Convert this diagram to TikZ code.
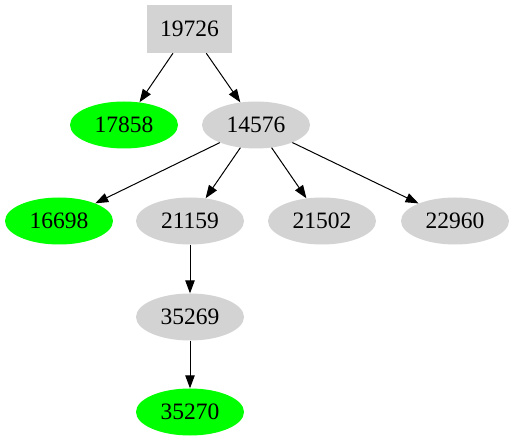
\documentclass[tikz,border=0pt]{standalone}
\usepackage{fontspec}
\setmainfont{Liberation Serif}
\usetikzlibrary{shapes.geometric,arrows.meta}
\definecolor{ggray}{HTML}{D3D3D3}
\definecolor{ggreen}{HTML}{00FF00}
\tikzset{
  base/.style={font=\fontsize{23.5}{26}\selectfont, inner sep=0pt},
  gbox/.style={base, rectangle, fill=ggray, minimum width=85pt, minimum height=48pt},
  gell/.style={base, ellipse, fill=ggray, minimum width=108pt, minimum height=47pt},
  grn/.style={base, ellipse, fill=ggreen, minimum width=108pt, minimum height=47pt},
  edge/.style={draw=black, line width=1pt, -{Triangle[length=13pt,width=9.5pt]}}
}
\begin{document}
\begin{tikzpicture}[x=1pt,y=-1pt]
\useasboundingbox (0,0) rectangle (514,443);
\node[gbox] (n19726) at (189.5,29) {19726};
\node[grn]  (n17858) at (124,125) {17858};
\node[gell] (n14576) at (256,125) {14576};
\node[grn]  (n16698) at (59,221) {16698};
\node[gell] (n21159) at (190,221) {21159};
\node[gell] (n21502) at (322,221) {21502};
\node[gell] (n22960) at (455,221) {22960};
\node[gell] (n35269) at (190,317) {35269};
\node[grn]  (n35270) at (190,412) {35270};
\draw[edge] (n19726) -- (n17858);
\draw[edge] (n19726) -- (n14576);
\draw[edge] (n14576) -- (n16698);
\draw[edge] (n14576) -- (n21159);
\draw[edge] (n14576) -- (n21502);
\draw[edge] (n14576) -- (n22960);
\draw[edge] (n21159) -- (n35269);
\draw[edge] (n35269) -- (n35270);
\end{tikzpicture}
\end{document}
